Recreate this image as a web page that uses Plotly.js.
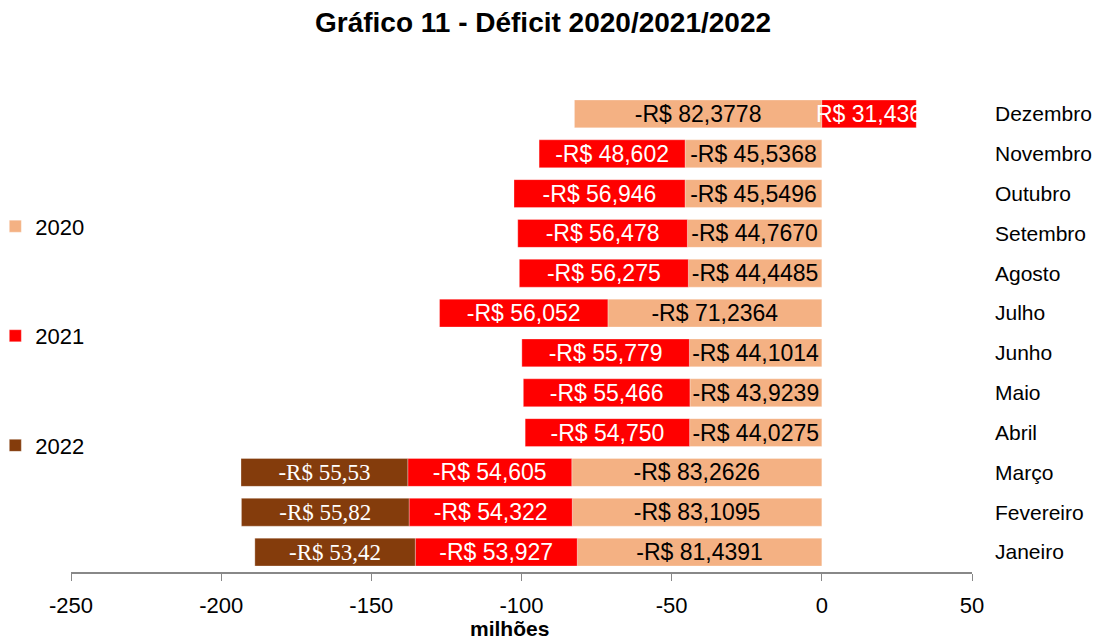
<!DOCTYPE html>
<html><head><meta charset="utf-8">
<script src="https://cdn.plot.ly/plotly-3.0.1.min.js"></script>
<style>html,body{margin:0;padding:0;background:#fff}#chart{width:1115px;height:641px}</style>
</head><body><div id="chart"></div>
<script>
const months = ["Janeiro","Fevereiro","Março","Abril","Maio","Junho","Julho","Agosto","Setembro","Outubro","Novembro","Dezembro"];
const deficit2020 = [-81.4391,-83.1095,-83.2626,-44.0275,-43.9239,-44.1014,-71.2364,-44.4485,-44.7670,-45.5496,-45.5368,-82.3778];
const deficit2021 = [-53.927,-54.322,-54.605,-54.750,-55.466,-55.779,-56.052,-56.275,-56.478,-56.946,-48.602,31.436];
const deficit2022 = [-53.42,-55.82,-55.53,null,null,null,null,null,null,null,null,null];
const xTicks = [-250,-200,-150,-100,-50,0,50];

function fmt(v, d){
  if (v === null) return "";
  const s = Math.abs(v).toFixed(d).replace(".", ",");
  return (v < 0 ? "-R$ " : "R$ ") + s;
}
const sans = "Liberation Sans, Arial, sans-serif";
const serif = "Liberation Serif, Times New Roman, serif";

function barTrace(name, vals, dec, color, txtColor, family, size){
  return {
    type: "bar", orientation: "h", name: name, legendgroup: name,
    y: months, x: vals,
    text: vals.map(v => fmt(v, dec)),
    textposition: "inside", insidetextanchor: "middle", constraintext: "none", textangle: 0,
    textfont: {family: family, size: size, color: txtColor},
    insidetextfont: {family: family, size: size, color: txtColor},
    marker: {color: color, line: {color: "rgba(255,255,255,0.6)", width: 0.5}},
    hoverinfo: "x+y+name"
  };
}

const data = [
  barTrace("2020", deficit2020, 4, "#F4B183", "#000000", sans, 23),
  barTrace("2021", deficit2021, 3, "#FF0000", "#FFFFFF", sans, 23),
  barTrace("2022", deficit2022, 2, "#843C0C", "#FFFFFF", serif, 23)
];

const layout = {
  width: 1115, height: 641,
  margin: {l: 71, r: 143, t: 94, b: 69, autoexpand: false},
  paper_bgcolor: "#fff", plot_bgcolor: "#fff",
  barmode: "relative", bargap: 0.3,
  font: {family: sans, size: 21, color: "#000"},
  title: {text: "<b>Gráfico 11 - Déficit 2020/2021/2022</b>", x: 0.487, xanchor: "center", y: 0.965, yanchor: "middle",
          font: {family: sans, size: 28, color: "#000"}},
  showlegend: true,
  legend: {x: -0.084, xanchor: "left", y: 0.767, yanchor: "top", traceorder: "grouped", tracegroupgap: 78,
           font: {family: sans, size: 22, color: "#000"}, bgcolor: "rgba(0,0,0,0)"},
  xaxis: {range: [-250, 50], tickvals: xTicks, ticktext: xTicks.map(String), ticks: "outside", ticklen: 7,
          tickcolor: "#888", showline: true, linecolor: "#888", linewidth: 2, showgrid: false, zeroline: false,
          tickfont: {family: sans, size: 22}, ticklabelstandoff: 6, fixedrange: true},
  yaxis: {type: "category", categoryarray: months, categoryorder: "array", side: "right", range: [-0.5, 11.5],
          ticks: "", showline: false, showgrid: false, zeroline: false, ticklabelstandoff: 22,
          tickfont: {family: sans, size: 21}, fixedrange: true},
  yaxis2: {overlaying: "y", anchor: "free", position: 250/300, side: "left", range: [-0.5, 11.5],
           tickvals: [-0.5,0.5,1.5,2.5,3.5,4.5,5.5,6.5,7.5,8.5,9.5,10.5,11.5], ticks: "outside", ticklen: 7,
           tickcolor: "#888", showticklabels: false, showline: true, linecolor: "#888", linewidth: 2,
           showgrid: false, zeroline: false, fixedrange: true},
  annotations: [{text: "<b>milhões</b>", xref: "paper", yref: "paper", x: (509-71)/901, y: -0.118,
                 xanchor: "center", yanchor: "middle", showarrow: false, font: {family: sans, size: 21, color: "#000"}}]
};
Plotly.newPlot("chart", data, layout, {displayModeBar: false, staticPlot: true});
</script></body></html>
